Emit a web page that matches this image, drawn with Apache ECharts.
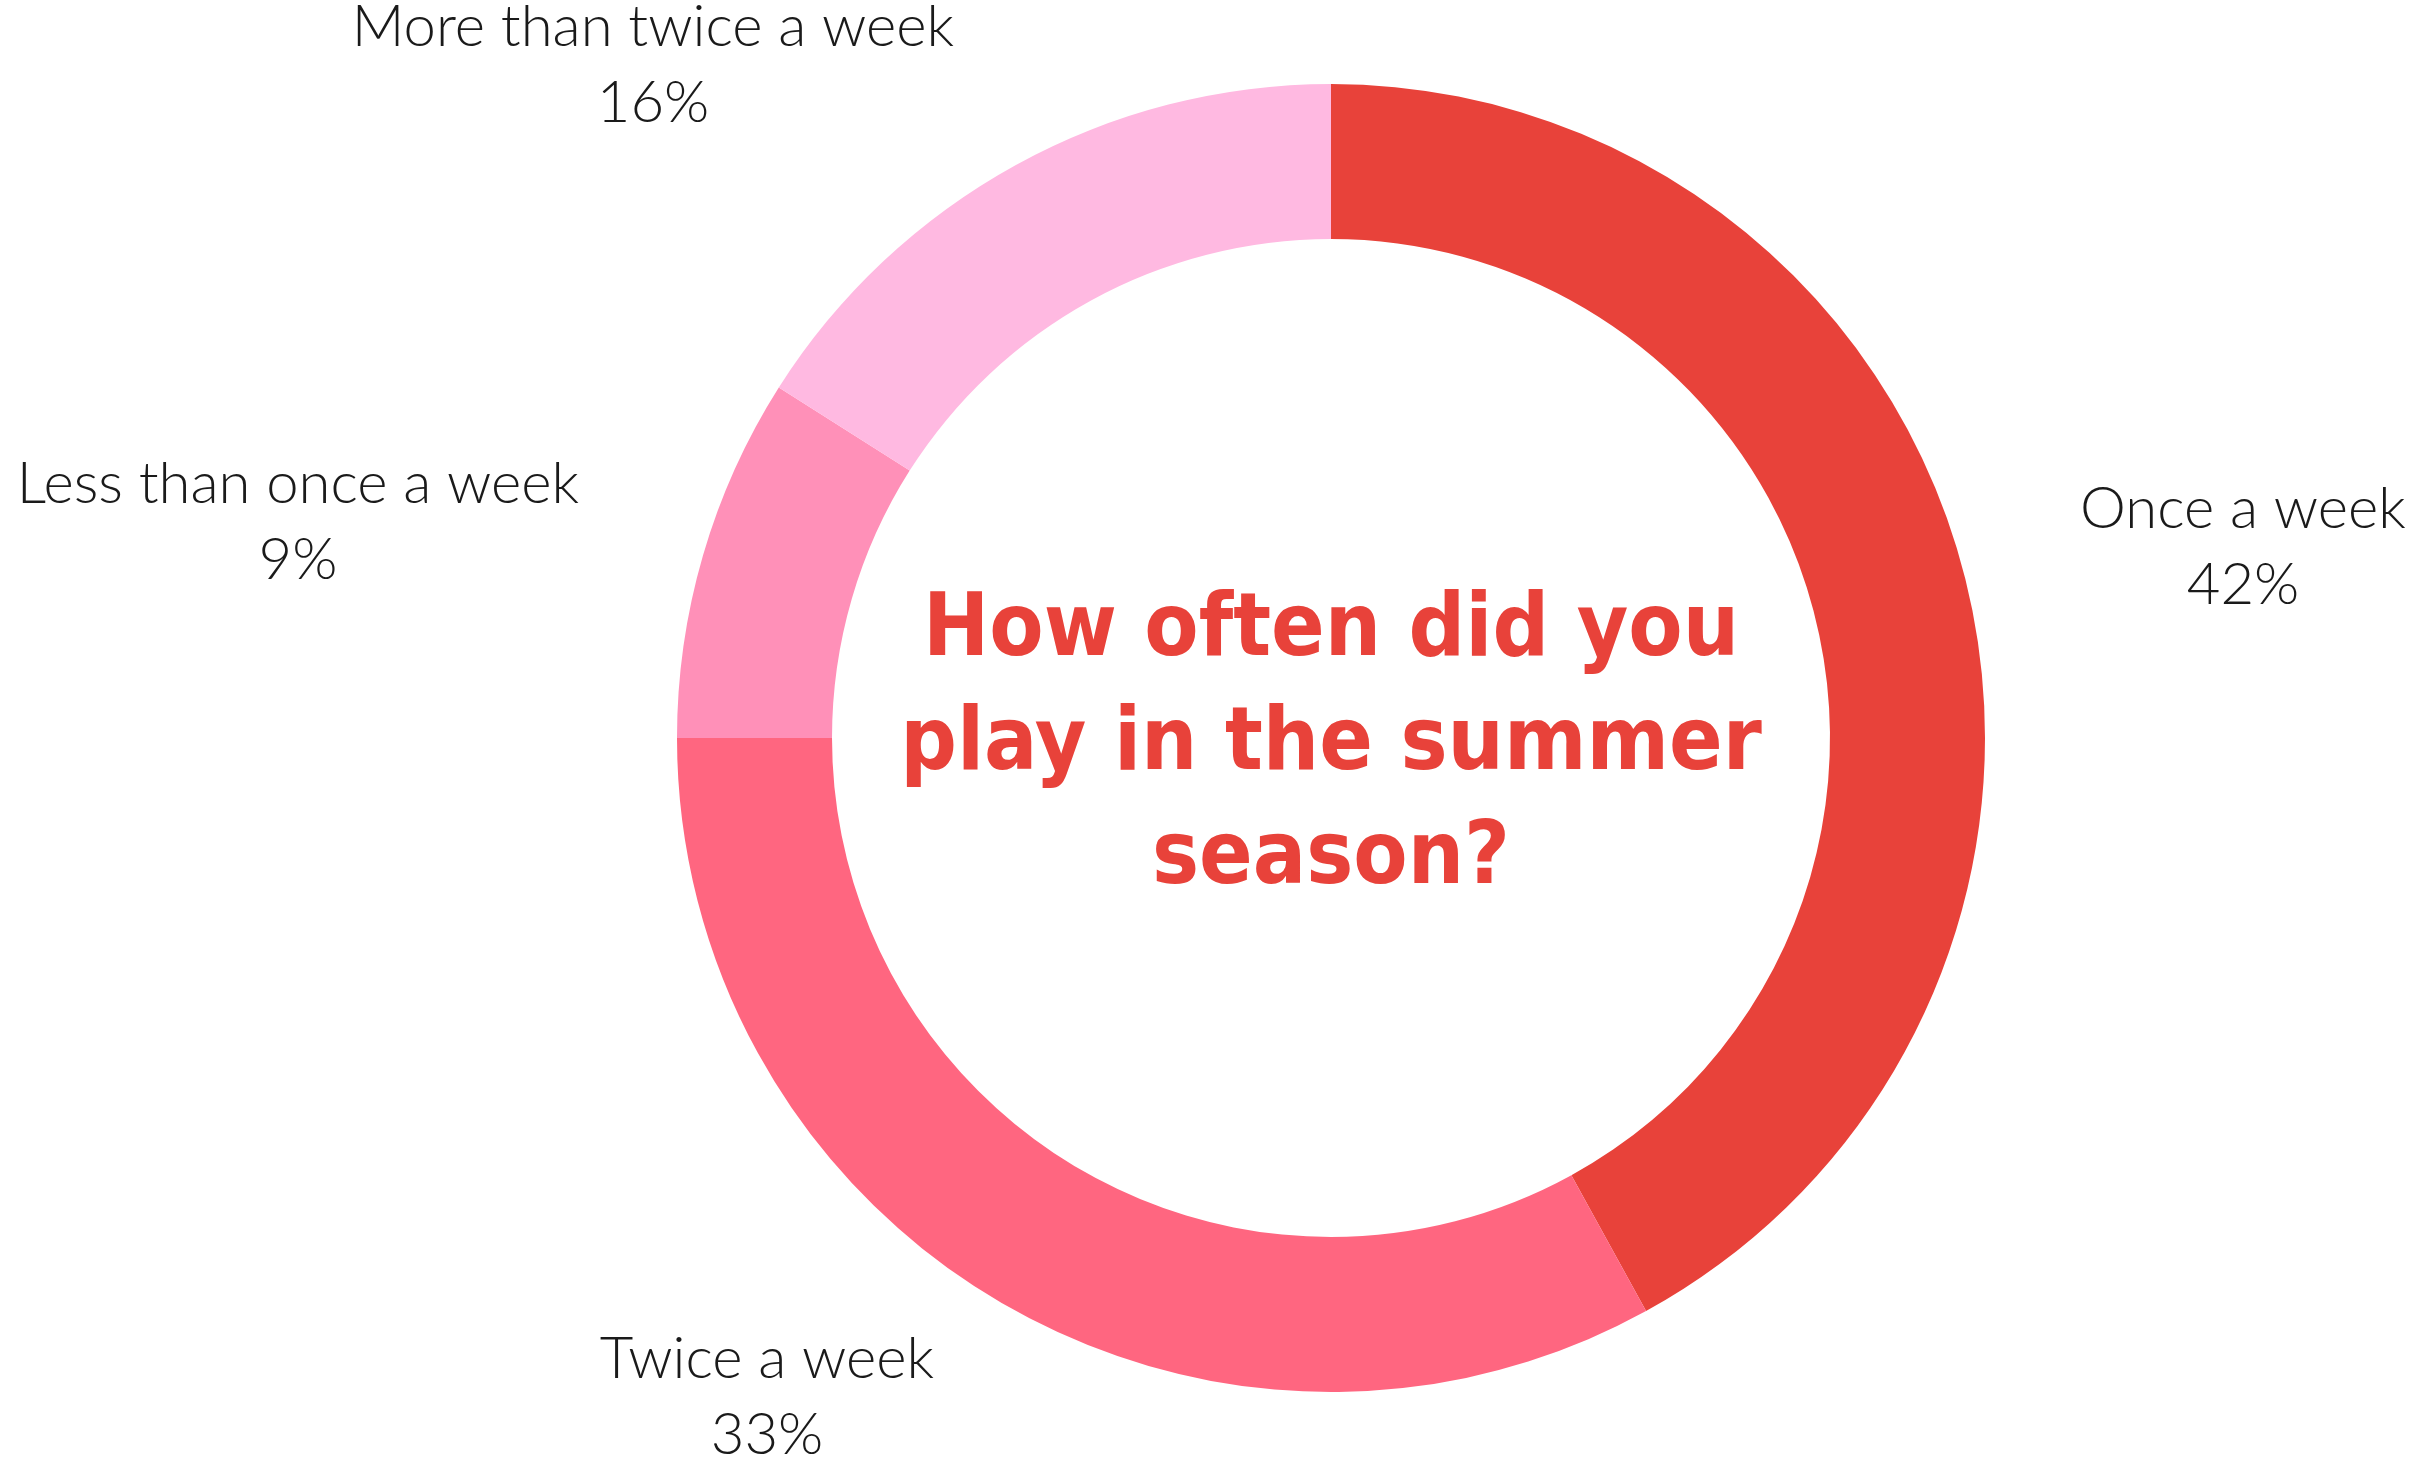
<!DOCTYPE html>
<html>
<head>
<meta charset="utf-8">
<script src="https://cdn.jsdelivr.net/npm/echarts@6/dist/echarts.min.js"></script>
<style>
  html, body { margin: 0; padding: 0; background: #fff; }
  #chart { width: 2421px; height: 1458px; }
</style>
</head>
<body>
<div id="chart"></div>
<script>
// survey answers, clockwise from 12 o'clock
const categories = ['Once a week', 'Twice a week', 'Less than once a week', 'More than twice a week']
const shares = [42, 33, 9, 16]
const sliceColors = ['#E8423A', '#FF6680', '#FF90B8', '#FFB9E1']
const question = 'How often did you\nplay in the summer\nseason?'

// where the labels sit (block centres, px)
const labelSpots = [
  [2243, 547],
  [767, 1397],
  [298, 522],
  [653, 65],
]

const chart = echarts.init(document.getElementById('chart'), null, { renderer: 'canvas' })

chart.setOption({
  backgroundColor: '#fff',
  animation: false,
  graphic: [
    {
      type: 'text',
      x: 1331,
      y: 746,
      z: 100,
      style: {
        text: question,
        align: 'center',
        verticalAlign: 'middle',
        fill: '#E8423A',
        font: 'bold 88px "DejaVu Sans Condensed", "DejaVu Sans"',
        lineHeight: 114,
      },
    },
  ],
  series: [
    {
      type: 'pie',
      center: [1331, 738],
      radius: [499, 654],
      startAngle: 90,
      clockwise: true,
      avoidLabelOverlap: false,
      data: categories.map((name, i) => ({
        name,
        value: shares[i],
        itemStyle: { color: sliceColors[i] },
      })),
      label: {
        show: true,
        position: 'outside',
        formatter: '{b}\n{d}%',
        color: '#1a1a1a',
        fontFamily: 'Lato',
        fontWeight: 300,
        fontSize: 58,
        lineHeight: 76,
        align: 'center',
      },
      labelLine: { show: false },
      labelLayout: (p) => ({
        x: labelSpots[p.dataIndex][0],
        y: labelSpots[p.dataIndex][1],
        align: 'center',
        verticalAlign: 'middle',
      }),
      emphasis: { disabled: true },
    },
  ],
})
</script>
</body>
</html>
